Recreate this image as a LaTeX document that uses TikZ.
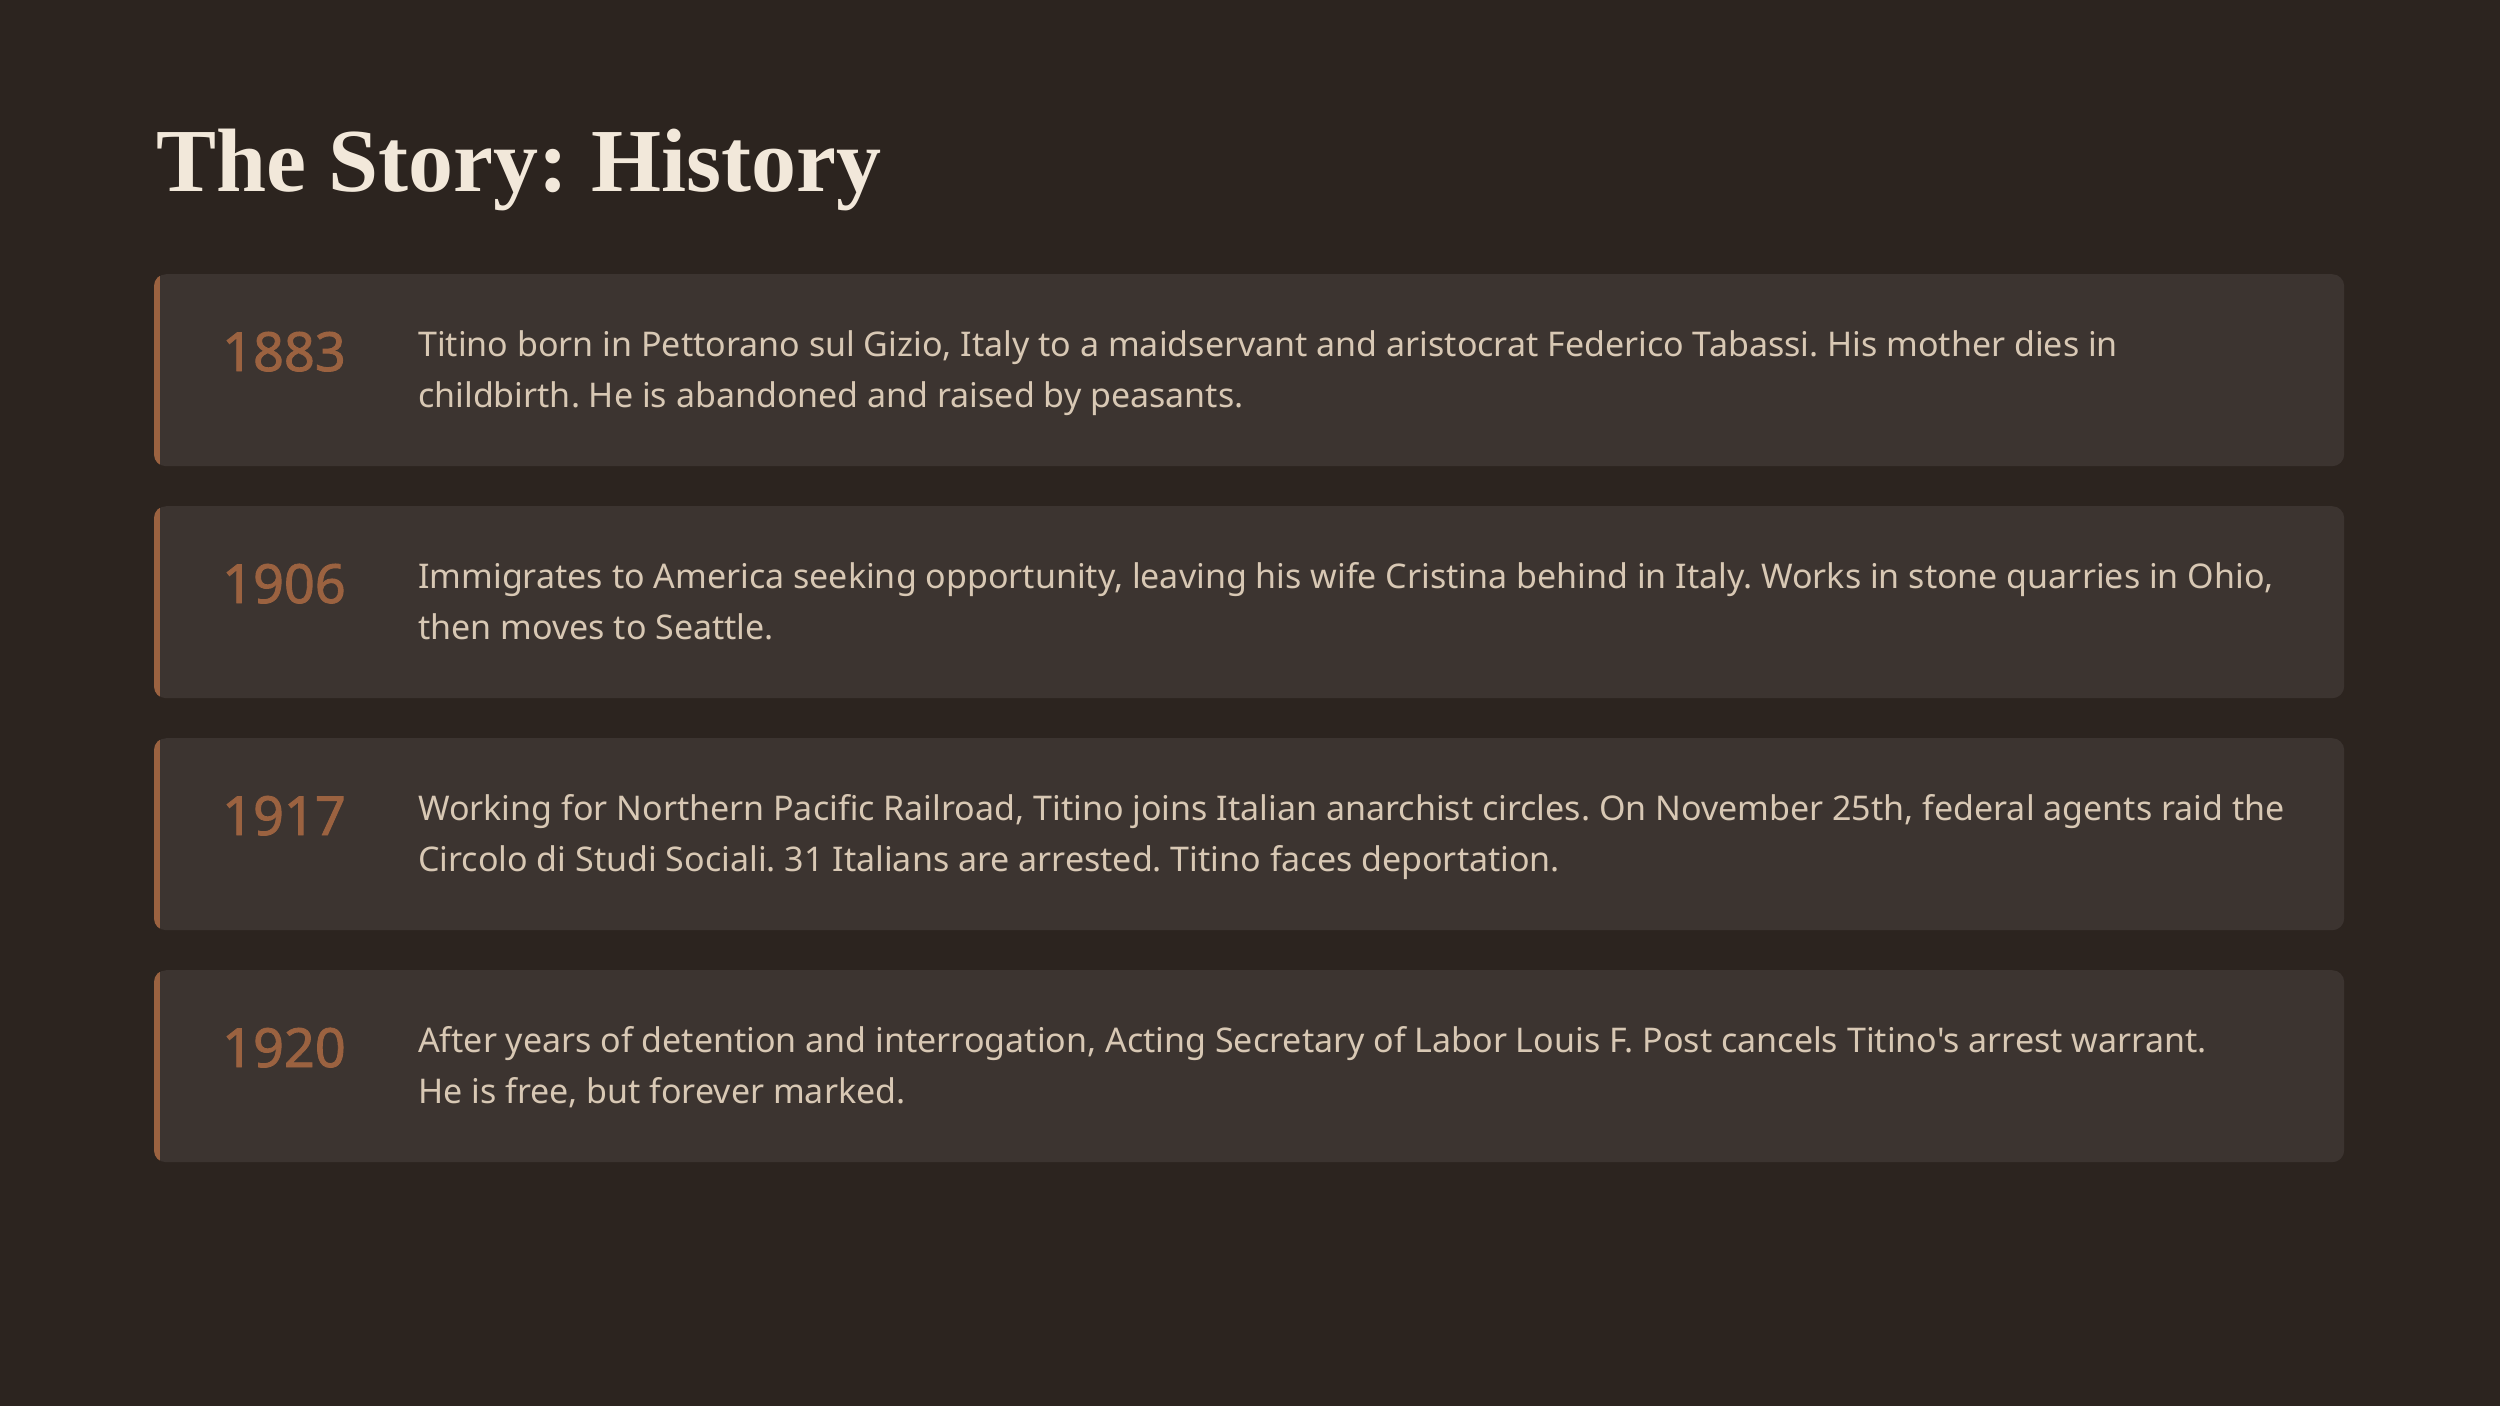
\documentclass[tikz,border=0pt]{standalone}
\usepackage{fontspec}
\setmainfont{Liberation Serif}
\newfontfamily\bodyfont{Noto Sans}
\newfontfamily\yearfont[FakeBold=1.6]{Noto Sans}
\definecolor{bgc}{HTML}{2C241F}
\definecolor{cardc}{HTML}{3C3430}
\definecolor{accent}{HTML}{9B6240}
\definecolor{bodyc}{HTML}{D8C8B4}
\definecolor{titlec}{HTML}{F2E8DA}
\frenchspacing
\tikzset{
  card/.style={rectangle, rounded corners=12pt, fill=cardc, minimum width=2190pt, minimum height=192pt, inner sep=0pt, anchor=north west},
  year/.style={anchor=base west, inner sep=0pt, text=accent, font=\yearfont\fontsize{54}{60}\selectfont},
  body/.style={anchor=base west, inner sep=0pt, text=bodyc, font=\bodyfont\fontsize{34}{40}\selectfont},
  ttl/.style={anchor=base west, inner sep=0pt, text=titlec, font=\bfseries\fontsize{90}{100}\selectfont}
}
\newcommand{\mkcard}[5]{%
  \node[card] (c#1) at (154,#2) {};
  \begin{scope}
    \clip[rounded corners=12pt] (c#1.north west) rectangle (c#1.south east);
    \fill[accent] (c#1.north west) rectangle ([xshift=6pt]c#1.south west);
  \end{scope}
  \node[year] (y#1) at (222,#2+97) {\frenchspacing #3};
  \node[body] (ta#1) at (418,#2+82) {\frenchspacing #4};
  \node[body] (tb#1) at (418,#2+133) {\frenchspacing #5};
}
\begin{document}
\begin{tikzpicture}[x=1pt,y=-1pt]
\fill[bgc] (0,0) rectangle (2500,1406);
\useasboundingbox (0,0) rectangle (2500,1406);
\node[ttl] (title) at (156,191) {\frenchspacing The Story: History};
\mkcard{1}{274}{1883}{Titino born in Pettorano sul Gizio, Italy to a maidservant and aristocrat Federico Tabassi. His mother dies in}{childbirth. He is abandoned and raised by peasants.}
\mkcard{2}{506}{1906}{Immigrates to America seeking opportunity, leaving his wife Cristina behind in Italy. Works in stone quarries in Ohio,}{then moves to Seattle.}
\mkcard{3}{738}{1917}{Working for Northern Pacific Railroad, Titino joins Italian anarchist circles. On November 25th, federal agents raid the}{Circolo di Studi Sociali. 31 Italians are arrested. Titino faces deportation.}
\mkcard{4}{970}{1920}{After years of detention and interrogation, Acting Secretary of Labor Louis F. Post cancels Titino's arrest warrant.}{He is free, but forever marked.}
\end{tikzpicture}
\end{document}
